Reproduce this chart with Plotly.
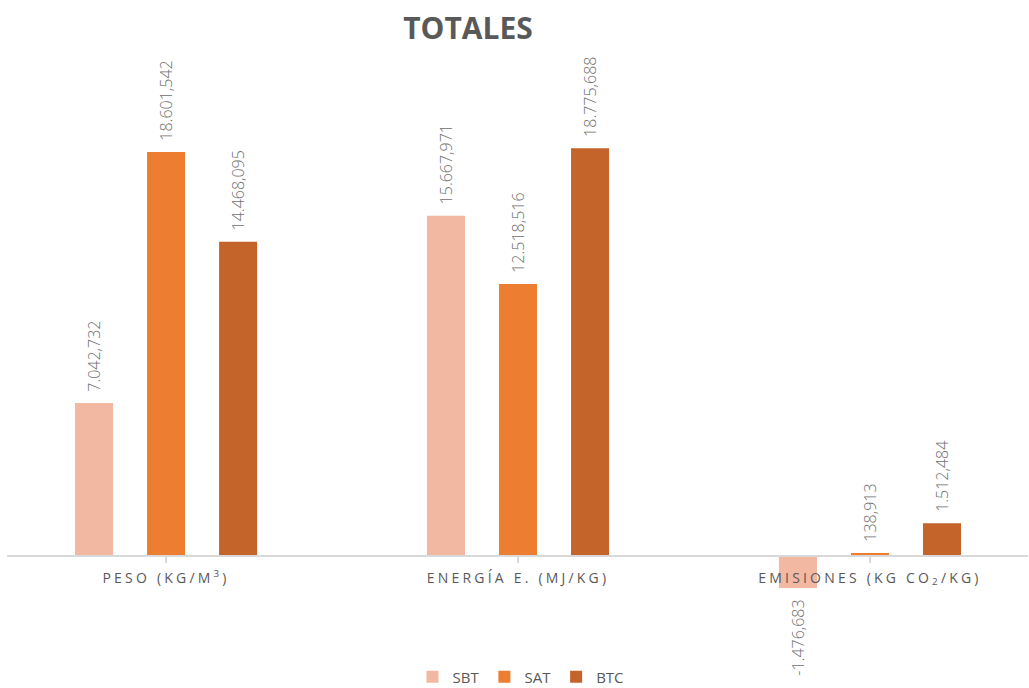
import plotly.graph_objects as go

categories = ["PESO (KG/M<sup>3</sup>)", "ENERGÍA E. (MJ/KG)", "EMISIONES (KG CO<sub>2</sub>/KG)"]
series_names = ["SBT", "SAT", "BTC"]
sbt = [7042.732, 15667.971, -1476.683]
sat = [18601.542, 12518.516, 138.913]
btc = [14468.095, 18775.688, 1512.484]
colors = ["#F2B8A2", "#ED7D31", "#C4632A"]

cat_idx = [0, 1, 2]
tick_text = ['<span style="letter-spacing:3.2px">%s</span>' % c for c in categories]
pad = "\u00a0\u00a0"

fig = go.Figure()
for name, vals, col in zip(series_names, [sbt, sat, btc], colors):
    fig.add_trace(go.Bar(
        x=cat_idx, y=vals, name=name, marker=dict(color=col, line=dict(width=0)),
        texttemplate=pad + "%{y:,.3f}" + pad, textposition="outside", textangle=-90,
        constraintext="none", cliponaxis=False,
        textfont=dict(family="Open Sans", size=16, color="#707070", weight=300),
    ))

fig.update_layout(
    width=1029, height=688,
    margin=dict(l=7, r=1, t=40, b=48, autoexpand=False),
    paper_bgcolor="white", plot_bgcolor="white",
    separators=",.",
    barmode="group", bargap=0.386, bargroupgap=0.472,
    title=dict(text="<b>TOTALES</b>", x=468/1029, xanchor="center", xref="container",
               y=1-28/688, yanchor="middle", yref="container",
               font=dict(family="Open Sans", size=30, color="#595959")),
    xaxis=dict(
        range=[-0.452, 2.449], tickmode="array", tickvals=cat_idx, ticktext=tick_text,
        anchor="free", position=(640-556)/600, showline=True, linecolor="#d9d9d9", linewidth=1.5,
        ticks="outside", tickson="boundaries", ticklen=6, tickcolor="#d9d9d9", tickwidth=1.5,
        ticklabelstandoff=3,
        tickfont=dict(family="Open Sans", size=14, color="#595959"),
        showgrid=False, zeroline=False, automargin=False,
    ),
    yaxis=dict(range=[-3867, 23757], visible=False, showgrid=False, zeroline=False),
    legend=dict(orientation="h", x=521/1029, xanchor="center", xref="container",
                y=(688-677)/688, yanchor="middle", yref="container",
                font=dict(family="Open Sans", size=15, color="#595959"),
                itemwidth=30, traceorder="normal"),
    showlegend=True,
)

fig.write_html("out.html", config={"displayModeBar": False},
               post_script="document.body.style.margin='0';document.body.style.overflow='hidden';")
